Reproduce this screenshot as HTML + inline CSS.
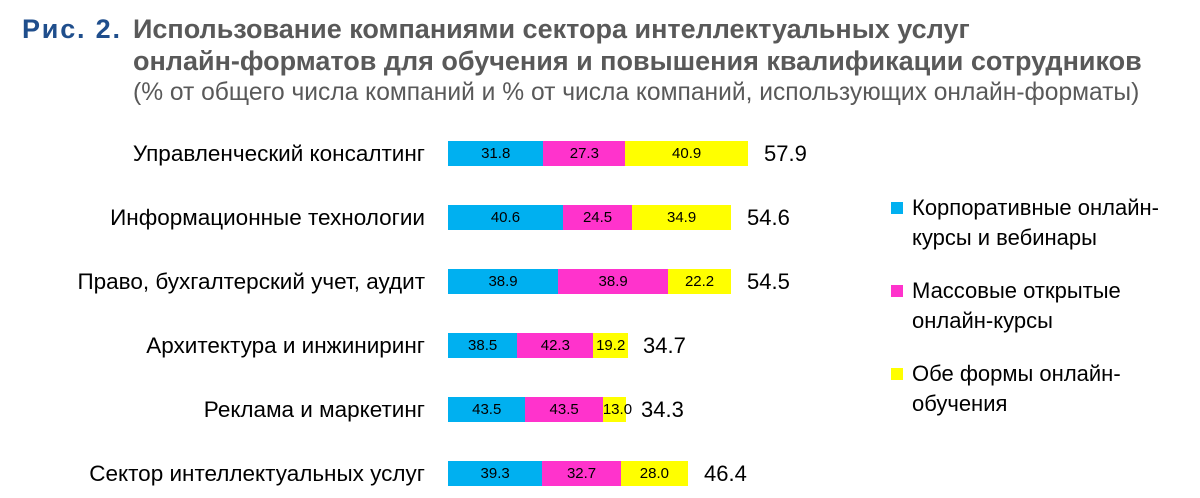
<!DOCTYPE html>
<html><head><meta charset="utf-8"><style>
body{margin:0;width:1200px;height:498px;background:#fff;position:relative;overflow:hidden;font-family:"Liberation Sans",Arial,sans-serif}
.a{position:absolute;white-space:nowrap}
.t{font-weight:bold;font-size:27px;color:#595959}
.cat{position:absolute;right:775px;font-size:22.5px;color:#000;line-height:25px;white-space:nowrap}
.bar{position:absolute;left:448px;height:25px;display:flex}
.bar div{height:25px;line-height:25px;text-align:center;font-size:15px;color:#000;overflow:visible;white-space:nowrap}
.c{background:#00b0f0}.m{background:#ff33cc}.y{background:#ffff00}
.v{position:absolute;font-size:22px;line-height:25px}
.lg{position:absolute;left:912px;font-size:22px;line-height:30px;color:#000;white-space:nowrap}
.sq{position:absolute;left:891px;width:12px;height:12px}
</style></head><body>
<div class="a" style="left:22px;top:14px;font-size:27px;font-weight:bold;color:#1f4e8c;letter-spacing:1.8px">Рис. 2.</div>
<div class="a t" style="left:133px;top:14px">Использование компаниями сектора интеллектуальных услуг</div>
<div class="a t" style="left:133px;top:46px">онлайн-форматов для обучения и повышения квалификации сотрудников</div>
<div class="a" style="left:133px;top:79px;font-size:24.6px;color:#595959">(% от общего числа компаний и % от числа компаний, использующих онлайн-форматы)</div>

<div class="cat" style="top:141px">Управленческий консалтинг</div>
<div class="cat" style="top:205px">Информационные технологии</div>
<div class="cat" style="top:269px">Право, бухгалтерский учет, аудит</div>
<div class="cat" style="top:333px">Архитектура и инжиниринг</div>
<div class="cat" style="top:397px">Реклама и маркетинг</div>
<div class="cat" style="top:461px">Сектор интеллектуальных услуг</div>

<div class="bar" style="top:141px;width:300px"><div class="c" style="width:31.8%">31.8</div><div class="m" style="width:27.3%">27.3</div><div class="y" style="width:40.9%">40.9</div></div>
<div class="v" style="left:764px;top:141px">57.9</div>
<div class="bar" style="top:205px;width:283px"><div class="c" style="width:40.6%">40.6</div><div class="m" style="width:24.5%">24.5</div><div class="y" style="width:34.9%">34.9</div></div>
<div class="v" style="left:747px;top:205px">54.6</div>
<div class="bar" style="top:269px;width:283px"><div class="c" style="width:38.9%">38.9</div><div class="m" style="width:38.9%">38.9</div><div class="y" style="width:22.2%">22.2</div></div>
<div class="v" style="left:747px;top:269px">54.5</div>
<div class="bar" style="top:333px;width:180px"><div class="c" style="width:38.5%">38.5</div><div class="m" style="width:42.3%">42.3</div><div class="y" style="width:19.2%">19.2</div></div>
<div class="v" style="left:643px;top:333px">34.7</div>
<div class="bar" style="top:397px;width:178px"><div class="c" style="width:43.5%">43.5</div><div class="m" style="width:43.5%">43.5</div><div class="y" style="width:13%">13.0</div></div>
<div class="v" style="left:641px;top:397px">34.3</div>
<div class="bar" style="top:461px;width:240px"><div class="c" style="width:39.3%">39.3</div><div class="m" style="width:32.7%">32.7</div><div class="y" style="width:28%">28.0</div></div>
<div class="v" style="left:704px;top:461px">46.4</div>

<div class="sq c" style="top:202px"></div>
<div class="lg" style="top:193px">Корпоративные онлайн-<br>курсы и вебинары</div>
<div class="sq m" style="top:285px"></div>
<div class="lg" style="top:276px">Массовые открытые<br>онлайн-курсы</div>
<div class="sq y" style="top:368px"></div>
<div class="lg" style="top:359px">Обе формы онлайн-<br>обучения</div>
</body></html>
